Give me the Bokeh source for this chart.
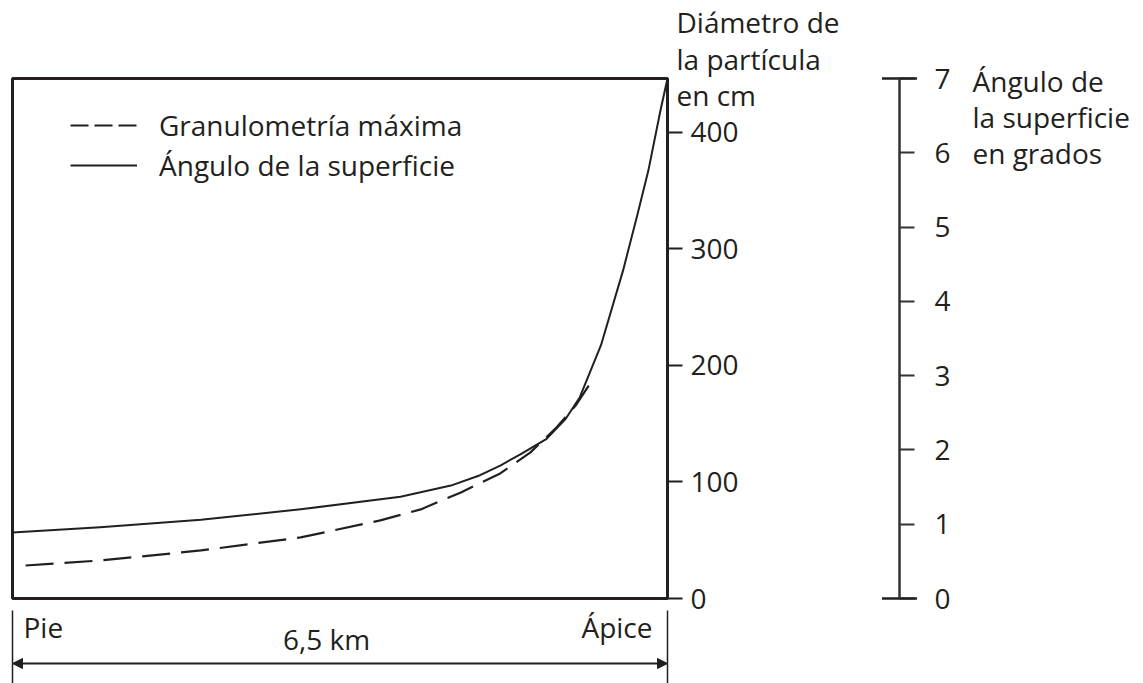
from bokeh.plotting import figure
from bokeh.models import (ColumnDataSource, Range1d, LinearAxis, FixedTicker, Label,
                          Arrow, NormalHead, TeeHead, Legend, LegendItem, BoxAnnotation)
from bokeh.embed import file_html
from bokeh.resources import INLINE

# ---------------- data ----------------
fan_length_km = 6.5
distance_angle_km = [0.0, 0.87, 1.87, 2.86, 3.85, 4.35, 4.64, 4.84, 5.04, 5.30,
                     5.49, 5.63, 5.84, 6.06, 6.20, 6.31, 6.43, 6.5]
surface_angle_deg = [0.89, 0.96, 1.06, 1.20, 1.37, 1.52, 1.66, 1.79, 1.94, 2.15,
                     2.42, 2.71, 3.41, 4.42, 5.16, 5.76, 6.57, 7.0]
distance_grain_km = [0.13, 0.87, 1.87, 2.86, 3.65, 4.05, 4.45, 4.84, 5.14, 5.39, 5.59, 5.72]
max_grain_cm = [28.3, 32.6, 41.2, 52.4, 67.0, 76.4, 91.0, 107.3, 125.3, 145.9, 165.7, 182.8]

cm_ticks = [0, 100, 200, 300, 400]
deg_ticks = [0, 1, 2, 3, 4, 5, 6, 7]
cm_max = 446
deg_max = 7

legend_labels = ["Granulometría máxima", "Ángulo de la superficie"]
cm_title = ["Diámetro de", "la partícula", "en cm"]
deg_title = ["Ángulo de", "la superficie", "en grados"]
foot_labels = ["Pie", "6,5 km", "Ápice"]

# ---------------- layout (pixels) ----------------
W, H = 1143, 683
BOX_L, BOX_R, BOX_T, BOX_B = 12, 667, 78, 598
AX2_X = 899
FONT = "Open Sans"
INK = "#231f20"
FS = "28px"

kx = (BOX_R - BOX_L) / fan_length_km
ky = (BOX_B - BOX_T) / cm_max
kd = (BOX_B - BOX_T) / deg_max


def X(px):
    return (px - BOX_L) / kx


def Ycm(py):
    return (BOX_B - py) / ky


def Ydeg(py):
    return (BOX_B - py) / kd


p = figure(width=W, height=H,
           x_range=Range1d(X(0), X(W)), y_range=Range1d(Ycm(H), Ycm(0)),
           x_axis_type=None, y_axis_type=None, toolbar_location=None, output_backend="svg",
           min_border=0, background_fill_color="white", border_fill_color="white")
p.extra_y_ranges = {"deg": Range1d(Ydeg(H), Ydeg(0))}
p.outline_line_color = None

# chart box
p.add_layout(BoxAnnotation(left=0, right=fan_length_km, bottom=0, top=cm_max,
                           fill_alpha=0, line_color=INK, line_alpha=1, line_width=3))

grain_src = ColumnDataSource(dict(x=distance_grain_km, y=max_grain_cm))
angle_src = ColumnDataSource(dict(x=distance_angle_km, y=surface_angle_deg))

p.line("x", "y", source=grain_src, line_color=INK, line_width=2.2, line_dash="28 11")
p.line("x", "y", source=angle_src, line_color=INK, line_width=2, y_range_name="deg",
       line_join="round")

# legend proxies (single first point: draw nothing, carry the legend's short dashes)
leg_dash = p.line(x=distance_grain_km[:1], y=max_grain_cm[:1], line_color=INK,
                  line_width=2.2, line_dash="18 6")
leg_solid = p.line(x=distance_angle_km[:1], y=surface_angle_deg[:1], line_color=INK,
                   line_width=2, y_range_name="deg")
legend = Legend(items=[LegendItem(label=legend_labels[0], renderers=[leg_dash]),
                       LegendItem(label=legend_labels[1], renderers=[leg_solid])],
                location=(70, H - 184), border_line_color=None, background_fill_alpha=0,
                padding=0, margin=0, spacing=2, glyph_width=67, glyph_height=34,
                label_height=34, label_standoff=22, label_text_font=FONT,
                label_text_font_size=FS, label_text_color=INK)
p.add_layout(legend)

# grain-size axis on the right edge of the box
ax = LinearAxis(ticker=FixedTicker(ticks=cm_ticks), fixed_location=fan_length_km,
                bounds=(0, cm_max), axis_line_width=3, axis_line_color=INK,
                major_tick_line_width=2, major_tick_line_color=INK, major_tick_out=15,
                major_tick_in=0, minor_tick_line_color=None, major_label_standoff=8,
                major_label_text_font=FONT, major_label_text_font_size=FS,
                major_label_text_color=INK)
p.add_layout(ax, "right")

# surface-angle axis, free-standing
ax2 = LinearAxis(y_range_name="deg", ticker=FixedTicker(ticks=deg_ticks), fixed_location=X(AX2_X),
                 bounds=(0, deg_max), axis_line_width=2, axis_line_color="#333333",
                 major_tick_line_width=2, major_tick_line_color="#333333", major_tick_out=15,
                 major_tick_in=0, minor_tick_line_color=None, major_label_standoff=20,
                 major_label_text_font=FONT, major_label_text_font_size=FS,
                 major_label_text_color=INK)
p.add_layout(ax2, "right")
p.add_layout(Arrow(x_start=X(AX2_X), y_start=deg_ticks[0], x_end=X(AX2_X), y_end=deg_ticks[-1],
                   y_range_name="deg", line_color="#333333", line_width=2,
                   start=TeeHead(size=35, line_color=INK, line_width=2.5),
                   end=TeeHead(size=35, line_color=INK, line_width=2.5)))


def text(txt, px, py, align="left"):
    p.add_layout(Label(x=X(px), y=Ycm(py), text=txt, text_font=FONT, text_font_size=FS,
                       text_color=INK, text_baseline="alphabetic", text_align=align))


for txt, base in zip(cm_title, [21, 58, 94]):
    text(txt, 676, base)
for txt, base in zip(deg_title, [80, 116, 152]):
    text(txt, 972, base)

# distance bar under the chart
p.add_layout(Arrow(x_start=0, y_start=Ycm(663), x_end=fan_length_km, y_end=Ycm(663),
                   line_color=INK, line_width=2,
                   start=NormalHead(size=10, fill_color=INK, line_color=INK),
                   end=NormalHead(size=10, fill_color=INK, line_color=INK)))
for xv in [0, fan_length_km]:
    p.add_layout(Arrow(x_start=xv, y_start=Ycm(610), x_end=xv, y_end=Ycm(H), end=None,
                       line_color=INK, line_width=1.5))
text(foot_labels[0], 23, 626)
text(foot_labels[1], 326, 638, "center")
text(foot_labels[2], 652, 626, "right")

open("out.html", "w").write(file_html(p, INLINE))
